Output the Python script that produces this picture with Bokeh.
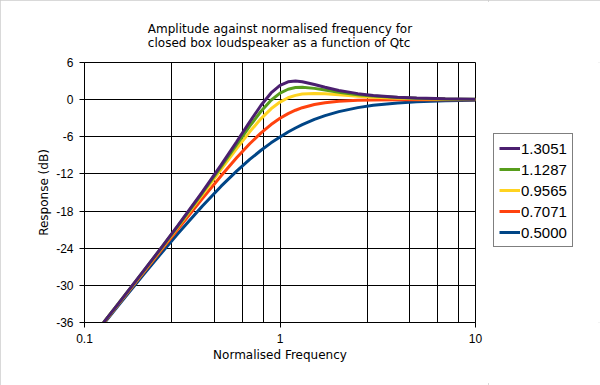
from bokeh.plotting import figure
from bokeh.layouts import row
from bokeh.models import (Range1d, FixedTicker, Legend, LegendItem, CustomJSTickFormatter)
from bokeh.embed import file_html
from bokeh.resources import INLINE

# ---- data ----
freq = [0.125, 0.15, 0.2, 0.25, 0.3, 0.4, 0.5, 0.6, 0.7, 0.8, 0.9, 1.0, 1.1, 1.2,
        1.3, 1.5, 1.7, 2.0, 2.5, 3.0, 4.0, 5.0, 7.0, 10.0]
q_labels = ["1.3051", "1.1287", "0.9565", "0.7071", "0.5000"]
resp_13051 = [-36.03, -32.82, -27.71, -23.70, -20.36, -14.95, -10.55, -6.81, -3.58, -0.91,
              1.08, 2.31, 2.88, 3.00, 2.89, 2.45, 2.00, 1.49, 0.97, 0.68, 0.38, 0.25, 0.13, 0.06]
resp_11287 = [-36.04, -32.84, -27.75, -23.76, -20.45, -15.12, -10.84, -7.28, -4.29, -1.88,
              -0.10, 1.05, 1.68, 1.95, 2.00, 1.82, 1.55, 1.20, 0.80, 0.57, 0.33, 0.21, 0.11, 0.05]
resp_09565 = [-36.06, -32.87, -27.81, -23.85, -20.58, -15.37, -11.26, -7.92, -5.20, -3.06,
              -1.48, -0.39, 0.30, 0.69, 0.90, 1.00, 0.94, 0.78, 0.55, 0.40, 0.24, 0.15, 0.08, 0.04]
resp_07071 = [-36.13, -32.96, -27.97, -24.10, -20.95, -16.03, -12.30, -9.40, -7.13, -5.37,
              -4.02, -3.01, -2.26, -1.71, -1.30, -0.78, -0.49, -0.26, -0.11, -0.05, -0.02, -0.01, 0.0, 0.0]
resp_05000 = [-36.26, -33.15, -28.30, -24.61, -21.66, -17.21, -13.98, -11.55, -9.66, -8.17,
              -6.98, -6.02, -5.23, -4.58, -4.04, -3.19, -2.58, -1.94, -1.29, -0.92, -0.53, -0.34, -0.18, -0.09]
colors = ["#4B1F6F", "#579D1C", "#FFD320", "#FF420E", "#004586"]

x_major = [0.1, 1, 10]
x_minor = [0.28, 0.46, 0.64, 0.82, 2.8, 4.6, 6.4, 8.2]
y_ticks = [-36, -30, -24, -18, -12, -6, 0, 6]

title_text = "Amplitude against normalised frequency for\nclosed box loudspeaker as a function of Qtc"

p = figure(width=488, height=385, x_axis_type="log",
           x_range=Range1d(0.1, 10), y_range=Range1d(-36, 6),
           output_backend="svg", toolbar_location=None,
           min_border_left=84, min_border_right=13, min_border_top=62, min_border_bottom=63)

p.title.text = title_text
p.title.align = "center"
p.title.text_font = "DejaVu Sans"
p.title.text_font_size = "12px"
p.title.text_font_style = "normal"
p.title.text_color = "black"
p.title.standoff = 25

p.outline_line_color = "black"
p.outline_line_width = 1
p.background_fill_color = "white"
p.border_fill_color = "white"

xt = FixedTicker(ticks=x_major, minor_ticks=x_minor)
yt = FixedTicker(ticks=y_ticks)
p.xaxis.ticker = xt
p.yaxis.ticker = yt
p.xgrid.ticker = xt
p.ygrid.ticker = yt
for g in (p.xgrid, p.ygrid):
    g.grid_line_color = "black"
    g.grid_line_width = 1
    g.grid_line_alpha = 1
p.xgrid.minor_grid_line_color = "black"
p.xgrid.minor_grid_line_width = 1

p.xaxis.formatter = CustomJSTickFormatter(code="return tick.toString();")
p.yaxis.formatter = CustomJSTickFormatter(code="return tick.toString();")
for ax in (p.xaxis, p.yaxis):
    ax.axis_line_color = "black"
    ax.major_tick_line_color = "black"
    ax.major_tick_out = 5
    ax.major_tick_in = 0
    ax.minor_tick_line_color = None
    ax.major_label_text_font = "Liberation Sans"
    ax.major_label_text_font_size = "12px"
    ax.major_label_text_color = "black"
    ax.axis_label_text_font = "DejaVu Sans"
    ax.axis_label_text_font_size = "12px"
    ax.axis_label_text_font_style = "normal"
    ax.axis_label_text_color = "black"
p.xaxis.axis_label = "Normalised Frequency"
p.yaxis.axis_label = "Response (dB)"
p.xaxis.major_label_standoff = 6
p.yaxis.major_label_standoff = 6
p.xaxis.axis_label_standoff = 2
p.yaxis.axis_label_standoff = 2

series = [resp_13051, resp_11287, resp_09565, resp_07071, resp_05000]
for lab, ys, c in reversed(list(zip(q_labels, series, colors))):
    p.line(freq, ys, line_color=c, line_width=3)

# legend panel (separate figure to the right of the chart)
p2 = figure(width=112, height=385, x_range=Range1d(0, 1), y_range=Range1d(0, 1),
            output_backend="svg", toolbar_location=None,
            min_border_left=0, min_border_right=0, min_border_top=0, min_border_bottom=0)
p2.axis.visible = False
p2.grid.visible = False
p2.outline_line_color = None
p2.background_fill_color = "white"
p2.border_fill_color = "white"

# off-screen helper renderers that only supply the legend swatches
dummy_x = [5, 6]
dummy_y = [5, 6]
items = []
for lab, c in zip(q_labels, colors):
    r = p2.line(dummy_x, dummy_y, line_color=c, line_width=3)
    items.append(LegendItem(label=lab, renderers=[r]))

legend = Legend(items=items, location=(5, 75))
legend.label_text_font = "Liberation Sans"
legend.label_text_font_size = "15px"
legend.label_text_color = "black"
legend.glyph_width = 21
legend.glyph_height = 18
legend.label_height = 18
legend.label_standoff = 1
legend.spacing = 3
legend.padding = 5
legend.margin = 0
legend.border_line_color = "black"
legend.border_line_width = 1
legend.background_fill_color = "white"
legend.background_fill_alpha = 1
p2.add_layout(legend)

layout = row(p, p2, spacing=0)
layout.styles = {"outline": "2px solid #cccccc", "outline-offset": "-2px"}
open("out.html", "w").write(file_html(layout, INLINE))
